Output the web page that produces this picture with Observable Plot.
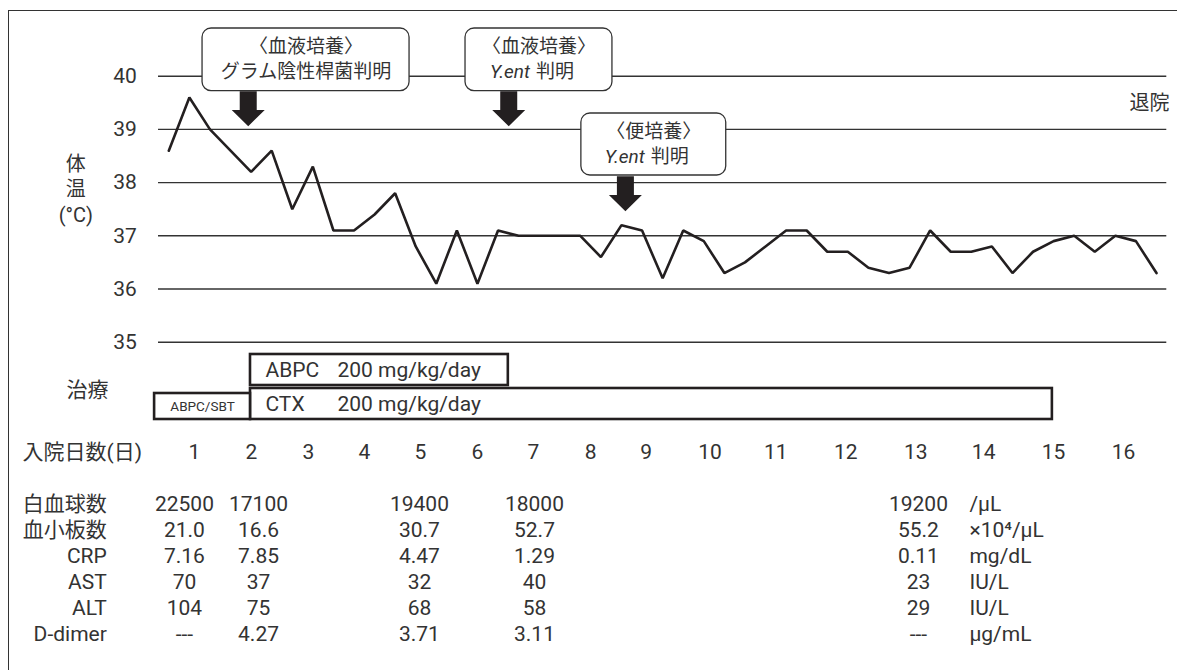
<!DOCTYPE html>
<html><head><meta charset="utf-8">
<script src="https://cdn.jsdelivr.net/npm/d3@7"></script>
<script src="https://cdn.jsdelivr.net/npm/@observablehq/plot@0.6"></script>
<style>
html,body{margin:0;padding:0;background:#fff;}
#wrap{position:relative;width:1177px;height:670px;overflow:hidden;font-family:Roboto,'Noto Sans CJK JP',sans-serif;color:#333;}
#frame{position:absolute;left:8px;top:10px;width:1300px;height:800px;border-left:1.6px solid #333;border-top:1.6px solid #333;z-index:5;}
.part{position:absolute;left:0;}
</style></head><body><div id="wrap"><div id="frame"></div></div>
<script>
// ---- data ----
const temps = [38.6,39.6,39.0,38.6,38.2,38.6,37.5,38.3,37.1,37.1,37.4,37.8,36.8,36.1,37.1,36.1,37.1,
  37.0,37.0,37.0,37.0,36.6,37.2,37.1,36.2,37.1,36.9,36.3,36.5,36.8,37.1,37.1,36.7,36.7,36.4,36.3,
  36.4,37.1,36.7,36.7,36.8,36.3,36.7,36.9,37.0,36.7,37.0,36.9,36.3];
const tempTicks = [35,36,37,38,39,40];
const dayLabels = [1,2,3,4,5,6,7,8,9,10,11,12,13,14,15,16];
// day tick positions, in measurement-index units
const dayTickPos = [1.25,4.02,6.79,9.51,12.23,15.0,17.72,20.5,23.2,26.3,29.5,32.9,36.3,39.6,43.0,46.4];

const annotTitle = ["〈血液培養〉","〈血液培養〉","〈便培養〉"];
const annotOrganism = ["","Y.ent","Y.ent"];
const annotResult = ["グラム陰性桿菌判明","判明","判明"];

const treatName = ["ABPC/SBT","ABPC","CTX"];
const treatDose = ["","200 mg/kg/day","200 mg/kg/day"];
const treatRow = ["lower","upper","lower"];
const treatStart = [-0.69,3.97,3.97];
const treatEnd = [3.97,16.5,42.94];

const labRows = ["白血球数","血小板数","CRP","AST","ALT","D-dimer"];
const labUnits = ["/μL","×10⁴/μL","mg/dL","IU/L","IU/L","μg/mL"];
const labDays = [1,2,5,7,13];
const wbc = ["22500","17100","19400","18000","19200"];
const plt = ["21.0","16.6","30.7","52.7","55.2"];
const crp = ["7.16","7.85","4.47","1.29","0.11"];
const ast = ["70","37","32","40","23"];
const alt = ["104","75","68","58","29"];
const ddimer = ["---","4.27","3.71","3.11","---"];

// ---- layout (index / temperature units) ----
const annotBox = [
  {x1:1.64,x2:11.70,y1:40.897,y2:39.718},
  {x1:14.42,x2:21.56,y1:40.897,y2:39.718},
  {x1:20.05,x2:27.09,y1:39.299,y2:38.133}];
const annotArrow = [{x:3.86,y:39.389},{x:16.52,y:39.389},{x:22.19,y:37.79}];
const labColPos = [0.76,4.36,12.18,17.77,36.43];

const W = 1177, ML = 168.3, MR = 21;
const xOpt = {domain:[0,48], axis:null};
const font = "Roboto,'Noto Sans CJK JP',sans-serif";
const baseStyle = {fontFamily:font, fontSize:"21px", color:"#333", background:"transparent", overflow:"visible"};
const ink = "#231f20";

const wrap = document.getElementById("wrap");
function place(svg, top){ svg.classList.add("part"); svg.style.top = top+"px"; wrap.appendChild(svg); }

// ---- Plot A: temperature ----
const pts = temps.map((t,i)=>({i,t}));
const ann = annotTitle.map((t,k)=>({title:t, org:annotOrganism[k], res:annotResult[k], ...annotBox[k],
  cx:(annotBox[k].x1+annotBox[k].x2)/2, cy:(annotBox[k].y1+annotBox[k].y2)/2}));
const arrowSym = {draw(ctx){
  const sw=8.5, hw=16.5, top=-17.5, neck=1.3, tip=17.5;
  ctx.moveTo(-sw,top); ctx.lineTo(sw,top); ctx.lineTo(sw,neck); ctx.lineTo(hw,neck);
  ctx.lineTo(0,tip); ctx.lineTo(-hw,neck); ctx.lineTo(-sw,neck); ctx.closePath();
}};
const hA = 345;
const plotA = Plot.plot({
  width:W, height:hA, marginLeft:ML, marginRight:MR, marginTop:75.7, marginBottom:hA-341.7,
  x:xOpt,
  y:{domain:[35,40], ticks:tempTicks, tickFormat:"d", tickSize:0, tickPadding:32, label:null},
  style:baseStyle,
  marks:[
    Plot.ruleY(tempTicks,{x1:-0.5,x2:48.5,stroke:"#333",strokeWidth:1.4}),
    Plot.line(pts,{x:"i",y:"t",stroke:ink,strokeWidth:2.6,strokeLinejoin:"miter"}),
    Plot.rect(ann,{x1:"x1",x2:"x2",y1:"y1",y2:"y2",fill:"white",stroke:"#333",strokeWidth:1.3,rx:9}),
    Plot.text(ann,{x:"cx",y:"cy",text:"title",dy:-12.5,fontSize:19}),
    Plot.text(ann.filter(d=>!d.org),{x:"cx",y:"cy",text:"res",dy:12.5,fontSize:19}),
    Plot.text(ann.filter(d=>d.org),{x:"cx",y:"cy",text:"org",dy:12.5,dx:-9,textAnchor:"end",fontStyle:"italic",fontSize:19}),
    Plot.text(ann.filter(d=>d.org),{x:"cx",y:"cy",text:"res",dy:12.5,dx:-3,textAnchor:"start",fontSize:19}),
    Plot.dot(annotArrow,{x:"x",y:"y",symbol:arrowSym,fill:ink,stroke:null}),
    Plot.text(["退院"],{x:47.66,y:39.49,fontSize:20}),
    Plot.text(["体\n温\n(°C)"],{frameAnchor:"left",y:37.9,dx:-93,textAnchor:"middle",lineHeight:1.28,fontSize:20})
  ]
});
place(plotA,0);

// ---- Plot B: treatment ----
const treat = treatName.map((n,k)=>({name:n,dose:treatDose[k],row:treatRow[k],start:treatStart[k],end:treatEnd[k]}));
const big = treat.filter(d=>d.dose), small = treat.filter(d=>!d.dose);
const hB = 85;
const plotB = Plot.plot({
  width:W, height:hB, marginLeft:ML, marginRight:MR, marginTop:9, marginBottom:11,
  x:xOpt,
  y:{type:"band",domain:["upper","lower"],paddingInner:0.09,paddingOuter:0,axis:null},
  style:baseStyle,
  marks:[
    Plot.barX(big,{x1:"start",x2:"end",y:"row",fill:"white",stroke:ink,strokeWidth:2.6}),
    Plot.barX(small,{x1:"start",x2:"end",y:"row",fill:"white",stroke:ink,strokeWidth:2.6,insetTop:5}),
    Plot.text(big,{x:"start",y:"row",text:"name",textAnchor:"start",dx:15}),
    Plot.text(big,{x:"start",y:"row",text:"dose",textAnchor:"start",dx:87}),
    Plot.text(small,{x:d=>(d.start+d.end)/2,y:"row",text:"name",fontSize:13.5,dy:2.5}),
    Plot.text(["治療"],{frameAnchor:"left",dx:-81.3,dy:3,textAnchor:"middle"})
  ]
});
place(plotB,345);

// ---- Plot C: day labels ----
const hC = 44;
const plotC = Plot.plot({
  width:W, height:hC, marginLeft:ML, marginRight:MR, marginTop:0, marginBottom:0,
  x:xOpt, style:baseStyle,
  marks:[
    Plot.text(dayLabels,{x:(d,i)=>dayTickPos[i],text:d=>String(d),frameAnchor:"middle"}),
    Plot.text(["入院日数(日)"],{frameAnchor:"left",dx:22-ML,textAnchor:"start"})
  ]
});
place(plotC,430);

// ---- Plot D: lab table ----
const labVals = [wbc,plt,crp,ast,alt,ddimer];
const cells = labRows.flatMap((r,ri)=>labDays.map((dd,ci)=>({row:r,x:labColPos[ci],v:labVals[ri][ci]})));
const units = labRows.map((r,ri)=>({row:r,u:labUnits[ri]}));
const hD = 180;
const plotD = Plot.plot({
  width:W, height:hD, marginLeft:ML, marginRight:MR, marginTop:23, marginBottom:25,
  x:xOpt,
  y:{type:"point",domain:labRows,padding:0,axis:null},
  style:baseStyle,
  marks:[
    Plot.text(labRows,{y:d=>d,text:d=>d,frameAnchor:"left",dx:-62,textAnchor:"end"}),
    Plot.text(cells,{x:"x",y:"row",text:"v"}),
    Plot.text(units,{x:()=>labColPos[4],y:"row",text:"u",dx:51,textAnchor:"start"})
  ]
});
place(plotD,480);
</script></body></html>
